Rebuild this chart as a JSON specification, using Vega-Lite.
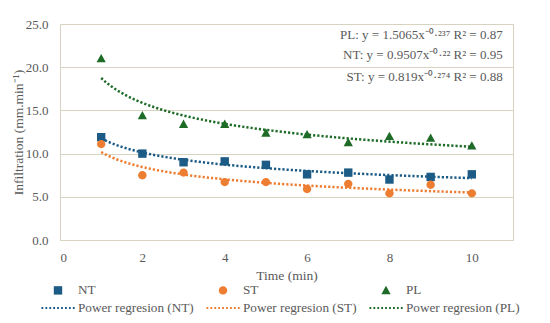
{
  "$schema": "https://vega.github.io/schema/vega-lite/v6.json",
  "width": 453,
  "height": 216,
  "autosize": "none",
  "padding": {"left": 60, "top": 24, "right": 37, "bottom": 83},
  "background": "white",
  "config": {
    "view": {"stroke": "#d8d3c0", "strokeWidth": 1},
    "font": "Liberation Serif",
    "axis": {"labelFont": "Liberation Serif", "titleFont": "Liberation Serif", "labelFontSize": 13, "titleFontSize": 13.5, "labelColor": "#595959", "titleColor": "#595959", "titleFontWeight": 400, "ticks": false, "domain": false},
    "legend": {"labelFont": "Liberation Serif", "labelFontSize": 13.2, "labelColor": "#595959"}
  },
  "data": {"values": [
    {"time": 1, "infiltration": 11.9, "series": "NT"},
    {"time": 2, "infiltration": 10.0, "series": "NT"},
    {"time": 3, "infiltration": 9.0, "series": "NT"},
    {"time": 4, "infiltration": 9.1, "series": "NT"},
    {"time": 5, "infiltration": 8.7, "series": "NT"},
    {"time": 6, "infiltration": 7.6, "series": "NT"},
    {"time": 7, "infiltration": 7.8, "series": "NT"},
    {"time": 8, "infiltration": 7.0, "series": "NT"},
    {"time": 9, "infiltration": 7.3, "series": "NT"},
    {"time": 10, "infiltration": 7.6, "series": "NT"},
    {"time": 1, "infiltration": 11.1, "series": "ST"},
    {"time": 2, "infiltration": 7.5, "series": "ST"},
    {"time": 3, "infiltration": 7.8, "series": "ST"},
    {"time": 4, "infiltration": 6.7, "series": "ST"},
    {"time": 5, "infiltration": 6.7, "series": "ST"},
    {"time": 6, "infiltration": 5.9, "series": "ST"},
    {"time": 7, "infiltration": 6.5, "series": "ST"},
    {"time": 8, "infiltration": 5.4, "series": "ST"},
    {"time": 9, "infiltration": 6.4, "series": "ST"},
    {"time": 10, "infiltration": 5.4, "series": "ST"},
    {"time": 1, "infiltration": 21.0, "series": "PL"},
    {"time": 2, "infiltration": 14.4, "series": "PL"},
    {"time": 3, "infiltration": 13.4, "series": "PL"},
    {"time": 4, "infiltration": 13.4, "series": "PL"},
    {"time": 5, "infiltration": 12.4, "series": "PL"},
    {"time": 6, "infiltration": 12.2, "series": "PL"},
    {"time": 7, "infiltration": 11.3, "series": "PL"},
    {"time": 8, "infiltration": 12.0, "series": "PL"},
    {"time": 9, "infiltration": 11.8, "series": "PL"},
    {"time": 10, "infiltration": 10.9, "series": "PL"}
  ]},
  "layer": [
    {
      "transform": [{"regression": "infiltration", "on": "time", "method": "pow", "groupby": ["series"]}],
      "mark": {"type": "line", "strokeWidth": 2.5, "strokeDash": [2.2, 2], "strokeCap": "butt"},
      "encoding": {
        "x": {"field": "time", "type": "quantitative"},
        "y": {"field": "infiltration", "type": "quantitative"},
        "stroke": {"field": "series", "type": "nominal", "legend": null,
                   "scale": {"domain": ["NT", "ST", "PL"], "range": ["#1b5b85", "#ed7d31", "#1d6b27"]}}
      }
    },
    {
      "mark": {"type": "point", "filled": true, "opacity": 1, "size": 196, "strokeWidth": 0},
      "encoding": {
        "x": {"field": "time", "type": "quantitative", "title": "Time (min)",
              "scale": {"domain": [0, 11], "nice": false},
              "axis": {"values": [0, 2, 4, 6, 8, 10], "grid": false, "labelPadding": 11, "titlePadding": 4, "titleFontWeight": 400, "titleFont": "Liberation Serif"}},
        "y": {"field": "infiltration", "type": "quantitative", "title": "Infiltration (mm.min⁻¹)",
              "scale": {"domain": [0, 25], "nice": false},
              "axis": {"values": [0, 5, 10, 15, 20, 25], "format": ".1f", "grid": true, "gridColor": "#d8d3c0", "gridWidth": 1.2, "labelPadding": 12, "titlePadding": 0, "titleFontWeight": 400, "titleFont": "Liberation Serif"}},
        "color": {"field": "series", "type": "nominal",
                  "scale": {"domain": ["NT", "ST", "PL", "Power regresion (NT)", "Power regresion (ST)", "Power regresion (PL)"],
                            "range": ["#1b5b85", "#ed7d31", "#1d6b27", "#1b5b85", "#ed7d31", "#1d6b27"]},
                  "legend": {"title": null, "orient": "none", "legendX": -9, "legendY": 259, "columns": 3, "direction": "horizontal", "symbolSize": 196, "symbolStrokeWidth": 0, "rowPadding": 4, "columnPadding": 12, "labelOffset": 13, "padding": 0, "labelFont": "Liberation Serif", "labelFontSize": 13.2, "labelColor": "#595959"}},
        "shape": {"field": "series", "type": "nominal",
                  "scale": {"domain": ["NT", "ST", "PL", "Power regresion (NT)", "Power regresion (ST)", "Power regresion (PL)"],
                            "range": [
                              "M-0.6,-0.6h1.2v1.2h-1.2z",
                              "M0.6,0A0.6,0.6,0,1,1,-0.6,0A0.6,0.6,0,1,1,0.6,0Z",
                              "M0,-0.66L0.66,0.54L-0.66,0.54Z",
                              "M-2.36,-0.15h0.26v0.3h-0.26zM-1.8,-0.15h0.26v0.3h-0.26zM-1.24,-0.15h0.26v0.3h-0.26zM-0.68,-0.15h0.26v0.3h-0.26zM-0.12,-0.15h0.26v0.3h-0.26zM0.44,-0.15h0.26v0.3h-0.26zM1,-0.15h0.26v0.3h-0.26zM1.56,-0.15h0.26v0.3h-0.26zM2.12,-0.15h0.26v0.3h-0.26z",
                              "M-2.36,-0.15h0.26v0.3h-0.26zM-1.8,-0.15h0.26v0.3h-0.26zM-1.24,-0.15h0.26v0.3h-0.26zM-0.68,-0.15h0.26v0.3h-0.26zM-0.12,-0.15h0.26v0.3h-0.26zM0.44,-0.15h0.26v0.3h-0.26zM1,-0.15h0.26v0.3h-0.26zM1.56,-0.15h0.26v0.3h-0.26zM2.12,-0.15h0.26v0.3h-0.26z",
                              "M-2.36,-0.15h0.26v0.3h-0.26zM-1.8,-0.15h0.26v0.3h-0.26zM-1.24,-0.15h0.26v0.3h-0.26zM-0.68,-0.15h0.26v0.3h-0.26zM-0.12,-0.15h0.26v0.3h-0.26zM0.44,-0.15h0.26v0.3h-0.26zM1,-0.15h0.26v0.3h-0.26zM1.56,-0.15h0.26v0.3h-0.26zM2.12,-0.15h0.26v0.3h-0.26z"
                            ]},
                  "legend": {"title": null, "orient": "none", "legendX": -9, "legendY": 259, "columns": 3, "direction": "horizontal", "symbolSize": 196, "symbolStrokeWidth": 0, "rowPadding": 4, "columnPadding": 12, "labelOffset": 13, "padding": 0, "labelFont": "Liberation Serif", "labelFontSize": 13.2, "labelColor": "#595959"}}
      }
    },
    {
      "data": {"values": [{"eq": "PL: y = 1.5065x⁻⁰·²³⁷  R² = 0.87"}]},
      "mark": {"type": "text", "align": "right", "baseline": "middle", "fontSize": 13, "color": "#595959", "font": "Liberation Serif"},
      "encoding": {"x": {"datum": 10.75}, "y": {"datum": 23.7}, "text": {"field": "eq"}}
    },
    {
      "data": {"values": [{"eq": "NT: y = 0.9507x⁻⁰·²²  R² = 0.95"}]},
      "mark": {"type": "text", "align": "right", "baseline": "middle", "fontSize": 13, "color": "#595959", "font": "Liberation Serif"},
      "encoding": {"x": {"datum": 10.75}, "y": {"datum": 21.4}, "text": {"field": "eq"}}
    },
    {
      "data": {"values": [{"eq": "ST: y = 0.819x⁻⁰·²⁷⁴  R² = 0.88"}]},
      "mark": {"type": "text", "align": "right", "baseline": "middle", "fontSize": 13, "color": "#595959", "font": "Liberation Serif"},
      "encoding": {"x": {"datum": 10.75}, "y": {"datum": 18.9}, "text": {"field": "eq"}}
    }
  ]
}
